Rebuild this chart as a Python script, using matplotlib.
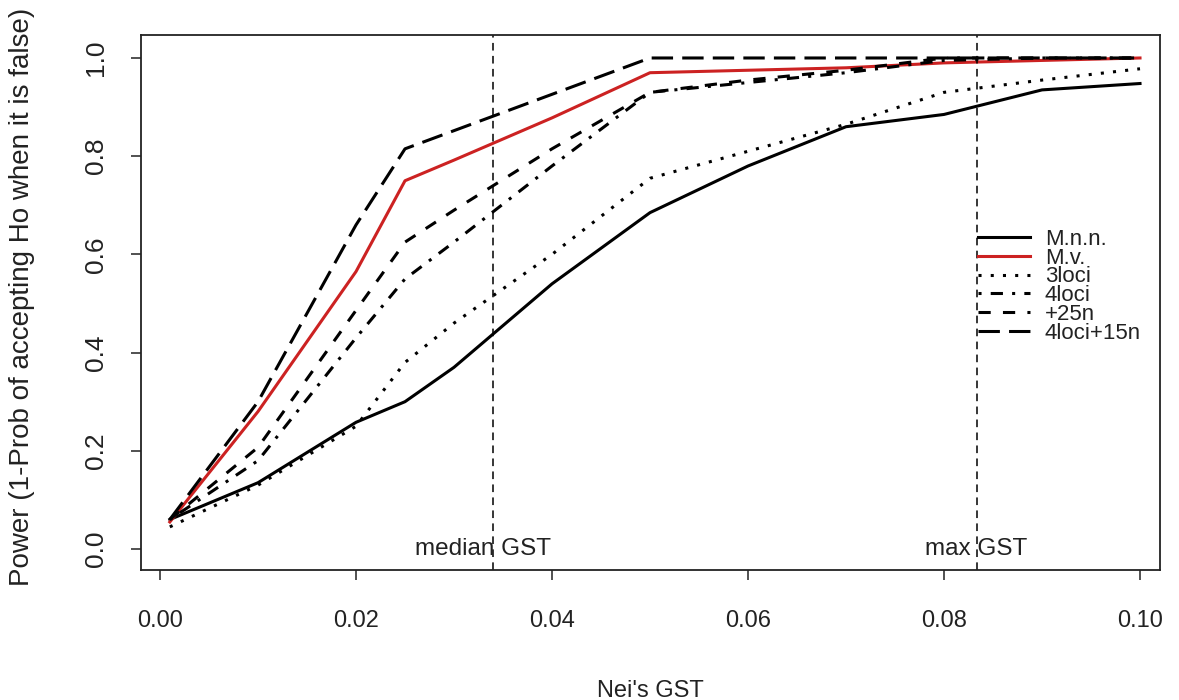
import numpy as np
import matplotlib.pyplot as plt

plt.rcParams['font.family'] = ['Liberation Sans', 'DejaVu Sans']

# Nei's GST values used in the simulations
gst = [0.001, 0.01, 0.02, 0.025, 0.03, 0.04, 0.05, 0.06, 0.07, 0.08, 0.09, 0.10]

# power for each method
mnn = [0.06, 0.135, 0.258, 0.30, 0.37, 0.54, 0.685, 0.78, 0.86, 0.885, 0.935, 0.948]
mv = [0.055, 0.28, 0.565, 0.75, 0.792, 0.878, 0.97, 0.975, 0.98, 0.99, 0.995, 1.0]
loci3 = [0.045, 0.13, 0.25, 0.38, 0.46, 0.60, 0.755, 0.81, 0.865, 0.93, 0.955, 0.978]
loci4 = [0.06, 0.18, 0.43, 0.55, 0.625, 0.78, 0.93, 0.95, 0.97, 0.995, 1.0, 1.0]
n25 = [0.06, 0.207, 0.486, 0.625, 0.69, 0.815, 0.93, 0.955, 0.975, 1.0, 1.0, 1.0]
loci4_n15 = [0.06, 0.30, 0.66, 0.815, 0.852, 0.926, 1.0, 1.0, 1.0, 1.0, 1.0, 1.0]

median_gst = 0.034
max_gst = 0.0834

fig = plt.figure(figsize=(11.79, 7.0), dpi=100)
ax = fig.add_axes([141 / 1179, 1 - 570 / 700, 1019 / 1179, 535 / 700])

lw = 2.2
ax.plot(gst, mnn, color='black', lw=lw, label='M.n.n.')
ax.plot(gst, mv, color='#cc2222', lw=lw, label='M.v.')
ax.plot(gst, loci3, color='black', lw=lw, dashes=(1, 3), label='3loci')
ax.plot(gst, loci4, color='black', lw=lw, dashes=(1, 3, 4, 3), label='4loci')
ax.plot(gst, n25, color='black', lw=lw, dashes=(4, 4), label='+25n')
ax.plot(gst, loci4_n15, color='black', lw=lw, dashes=(7, 3), label='4loci+15n')

# reference lines
for v in (median_gst, max_gst):
    ax.axvline(v, color='black', lw=1.1, dashes=(5, 3.5))
ax.text(0.033, 0.0, 'median GST', ha='center', va='center', fontsize=17.5, color='#222222')
ax.text(0.0833, 0.0, 'max GST', ha='center', va='center', fontsize=17.5, color='#222222')

ax.set_xlim(-0.00194, 0.10204)
ax.set_ylim(-0.0428, 1.0468)
ax.set_xticks(np.arange(0, 0.101, 0.02))
ax.set_xticklabels(['%.2f' % t for t in np.arange(0, 0.101, 0.02)])
ax.set_yticks(np.arange(0, 1.01, 0.2))
ax.set_yticklabels(['%.1f' % t for t in np.arange(0, 1.01, 0.2)], rotation=90, va='center')
ax.tick_params(axis='both', direction='out', length=7, width=1.1, labelsize=17,
               colors='#222222')
ax.tick_params(axis='x', pad=22)
ax.tick_params(axis='y', pad=17, labelsize=19)
for s in ax.spines.values():
    s.set_linewidth(1.3)
    s.set_color('#222222')

ax.set_xlabel("Nei's GST", fontsize=17, color='#222222')
ax.set_ylabel('Power (1-Prob of accepting Ho when it is false)', fontsize=20, color='#222222')
ax.xaxis.set_label_coords(0.5, -0.205)
ax.yaxis.set_label_coords(-0.104, 0.51)

ax.legend(loc='upper left', bbox_to_anchor=(0.821, 0.6375), frameon=False,
          fontsize=16, handlelength=2.35, handletextpad=0.68, labelspacing=-0.1,
          borderpad=0, borderaxespad=0, labelcolor='#222222')

fig.savefig('out.png', dpi=100, facecolor='white')
